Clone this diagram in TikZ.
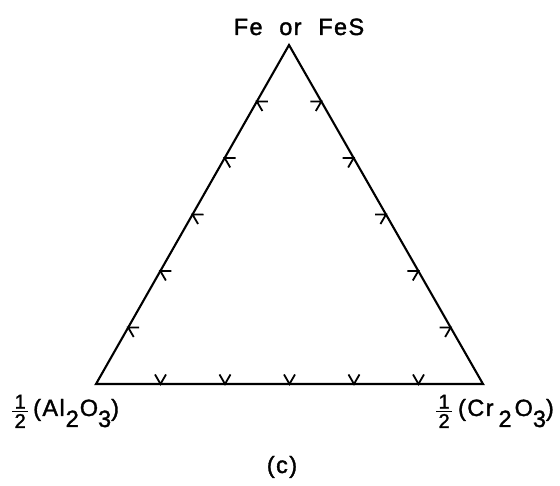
\documentclass[tikz,border=0pt]{standalone}
\usepackage{fontspec}
\setmainfont{Liberation Sans}
\newfontfamily\lblfont[LetterSpace=6,WordSpace=2.1,FakeBold=1.5]{Liberation Sans}
\usetikzlibrary{calc}
\newcommand\halffrac{\raisebox{-12pt}{\vbox{\hbox to 16pt{\hss\fontsize{20}{20}\selectfont 1\hss}\kern2pt\hrule height 1.5pt\kern2pt\hbox to 16pt{\hss\fontsize{20}{20}\selectfont 2\hss}}}}
\newcommand\lowsub[1]{\raisebox{-11pt}{#1}}
\begin{document}
\begin{tikzpicture}[x=1pt,y=1pt,
  edge/.style={line width=2.1pt, line join=miter},
  tick/.style={line width=1.8pt},
  lbl/.style={inner sep=0pt, font=\lblfont\fontsize{23.5}{23.5}\selectfont}]
\useasboundingbox (0,0) rectangle (560,485);
\coordinate (A) at (96,101);
\coordinate (T) at (289,440);
\coordinate (C) at (483,101);
\draw[edge] (A) -- (T) -- (C) -- cycle;
\foreach \p/\q in {A/T,T/C,C/A}{
  \foreach \k in {1,...,5}{
    \coordinate (m-\p-\k) at ($(\p)!\k/6!(\q)$);
    \draw[tick] ($(m-\p-\k)!11pt!-60:(\q)$) -- (m-\p-\k) -- ($(m-\p-\k)!11pt!-120:(\q)$);
  }
}
\node[lbl, anchor=base] (top) at (299,450) {Fe or FeS};
\node[lbl, anchor=base west] (al) at (12,69) {\halffrac\kern5pt(Al\kern1pt\lowsub{2}\kern1pt O\lowsub{3})};
\node[lbl, anchor=base east] (cr) at (554,69) {\halffrac\kern6pt(Cr\kern5pt\lowsub{2}\kern3pt O\lowsub{3})};
\node[lbl, anchor=base] (cap) at (282,12) {(c)};
\end{tikzpicture}
\end{document}
